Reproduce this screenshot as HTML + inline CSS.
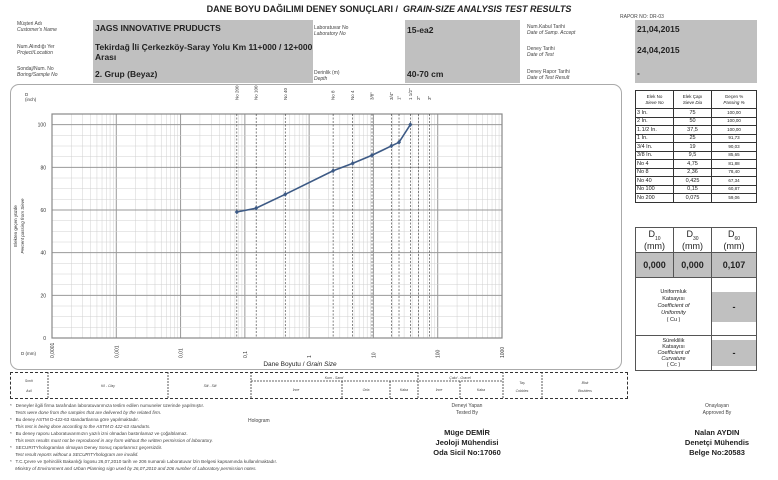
<!DOCTYPE html>
<html><head><meta charset="utf-8">
<style>
body{margin:0;background:#fff;font-family:"Liberation Sans",sans-serif;color:#222}
#page{position:relative;width:778px;height:480px;overflow:hidden}
.a{position:absolute;white-space:nowrap}
.s{font-size:5px;line-height:6px;color:#444}
.i{font-style:italic}
.g{position:absolute;background:#c0c0c0}
.b{font-weight:bold}
table{border-collapse:collapse;position:absolute}
#sv td{padding:0}
</style></head><body>
<div id="page">
<div class="a b" style="left:0;width:778px;text-align:center;top:4px;font-size:9px">DANE BOYU DAĞILIMI DENEY SONUÇLARI / &nbsp;<i>GRAIN-SIZE ANALYSIS TEST RESULTS</i></div>
<div class="a s" style="left:17px;top:21px">Müşteri Adı<br><i>Customer's Name</i></div>
<div class="a s" style="left:17px;top:44px">Num.Alındığı Yer<br><i>Project/Location</i></div>
<div class="a s" style="left:17px;top:66px">Sondaj/Num. No<br><i>Boring/Sample No</i></div>
<div class="g" style="left:93px;top:20px;width:220px;height:63px"></div>
<div class="a b" style="left:95px;top:23px;font-size:8.5px">JAGS INNOVATIVE PRUDUCTS</div>
<div class="a b" style="left:95px;top:42px;font-size:8.5px;line-height:10px">Tekirdağ İli Çerkezköy-Saray Yolu Km 11+000 / 12+000<br>Arası</div>
<div class="a b" style="left:95px;top:69px;font-size:8.5px">2. Grup (Beyaz)</div>
<div class="a s" style="left:314px;top:25px">Laboratuvar No<br><i>Laboratory No</i></div>
<div class="a s" style="left:314px;top:70px">Derinlik (m)<br><i>Depth</i></div>
<div class="g" style="left:405px;top:20px;width:115px;height:63px"></div>
<div class="a b" style="left:407px;top:25px;font-size:8.5px">15-ea2</div>
<div class="a b" style="left:407px;top:69px;font-size:8.5px">40-70 cm</div>
<div class="a s" style="left:527px;top:24px">Num.Kabul Tarihi<br><i>Date of Samp. Accept</i></div>
<div class="a s" style="left:527px;top:46px">Deney Tarihi<br><i>Date of Test</i></div>
<div class="a s" style="left:527px;top:69px">Deney Rapor Tarihi<br><i>Date of Test Result</i></div>
<div class="a s" style="left:620px;top:14px">RAPOR NO: DR-03</div>
<div class="g" style="left:635px;top:20px;width:122px;height:63px"></div>
<div class="a b" style="left:637px;top:24px;font-size:8.5px">21,04,2015</div>
<div class="a b" style="left:637px;top:45px;font-size:8.5px">24,04,2015</div>
<div class="a b" style="left:637px;top:68px;font-size:8.5px">-</div>

<div class="a" style="left:10px;top:84px;width:610px;height:284px;border:1px solid #aaa;border-radius:9px"></div>
<svg id="chart" class="a" style="left:0;top:0" width="778" height="480"></svg>

<table style="left:635px;top:90px;width:122px;font-size:4.5px;table-layout:fixed" id="sv"></table>

<table style="left:635px;top:227px;width:122px;border:1px solid #555">
<tr style="height:25px;font-size:9px;text-align:center"><td style="border:1px solid #555;width:37px;padding:0">D<sub style="font-size:5px">10</sub><br>(mm)</td><td style="border:1px solid #555;width:37px;padding:0">D<sub style="font-size:5px">30</sub><br>(mm)</td><td style="border:1px solid #555;padding:0">D<sub style="font-size:5px">60</sub><br>(mm)</td></tr>
<tr style="height:25px;font-size:9px;font-weight:bold;text-align:center;background:#c0c0c0"><td style="border:1px solid #555">0,000</td><td style="border:1px solid #555">0,000</td><td style="border:1px solid #555">0,107</td></tr>
<tr style="height:58px;font-size:5.5px;line-height:7px;text-align:center"><td colspan="2" style="border:1px solid #555;padding:0">Uniformluk<br>Katsayısı<br><i>Coefficient of<br>Uniformity</i><br>( Cu )</td><td style="border:1px solid #555;padding:0"><div style="margin:7px 0;height:30px;background:#c0c0c0;line-height:30px;font-size:9px;font-weight:bold">-</div></td></tr>
<tr style="height:32px;font-size:5.5px;line-height:6px;text-align:center"><td colspan="2" style="border:1px solid #555;padding:0">Süreklilik<br>Katsayısı<br><i>Coefficient of<br>Curvature</i><br>( Cc )</td><td style="border:1px solid #555;padding:0"><div style="margin:4px 0;height:26px;background:#c0c0c0;line-height:26px;font-size:9px;font-weight:bold">-</div></td></tr>
</table>

<div class="a" style="left:10px;top:372px;width:616px;height:25px;border:1px dashed #333"></div>
<svg class="a" style="left:0;top:0;pointer-events:none" width="778" height="480">
<g stroke="#333" stroke-dasharray="2,1" stroke-width="0.8">
<line x1="48" y1="372" x2="48" y2="398"/><line x1="168" y1="372" x2="168" y2="398"/><line x1="251" y1="372" x2="251" y2="398"/>
<line x1="418" y1="372" x2="418" y2="398"/><line x1="503" y1="372" x2="503" y2="398"/><line x1="542" y1="372" x2="542" y2="398"/>
<line x1="251" y1="381" x2="503" y2="381"/><line x1="342" y1="381" x2="342" y2="398"/><line x1="390" y1="381" x2="390" y2="398"/><line x1="460" y1="381" x2="460" y2="398"/>
</g>
<g font-size="3.5" fill="#444" text-anchor="middle" font-style="italic">
<text x="29" y="382">Sınıfı</text><text x="29" y="392">Asil</text><text x="108" y="387">Kil - Clay</text><text x="210" y="387">Silt - Silt</text>
<text x="334" y="379">Kum - Sand</text><text x="460" y="379">Çakıl - Gravel</text>
<text x="296" y="391">İnce</text><text x="366" y="391">Orta</text><text x="404" y="391">Kaba</text><text x="439" y="391">İnce</text><text x="481" y="391">Kaba</text>
<text x="522" y="384">Taş</text><text x="522" y="392">Cobbles</text><text x="585" y="384">Blok</text><text x="585" y="392">Boulders</text>
</g></svg>

<div class="a s" style="left:10px;top:402px;line-height:7px;font-size:4.6px">
*&nbsp;&nbsp; Deneyler ilgili firma tarafından laboratuvarımıza teslim edilen numuneler üzerinde yapılmıştır.<br>
&nbsp;&nbsp;&nbsp;&nbsp;<i>Tests were done from the samples that are delivered by the related firm.</i><br>
*&nbsp;&nbsp; Bu deney ASTM D-422-63 standartlarına göre yapılmaktadır.<br>
&nbsp;&nbsp;&nbsp;&nbsp;<i>This test is being done according to the ASTM D 422-63 standarts.</i><br>
*&nbsp;&nbsp; Bu deney raporu Laboratuvarımızın yazılı izni olmadan bastırılamaz ve çoğaltılamaz.<br>
&nbsp;&nbsp;&nbsp;&nbsp;<i>This tests results must not be reproduced in any form without the written permission of laboratory.</i><br>
*&nbsp;&nbsp; SECURITYhologramları olmayan Deney Sonuç raporlarımız geçersizdir.<br>
&nbsp;&nbsp;&nbsp;&nbsp;<i>Test result reports without a SECURITYhologram are invalid.</i><br>
*&nbsp;&nbsp; T.C.Çevre ve Şehircilik Bakanlığı logosu 26,07,2010 tarih ve 206 numaralı Laboratuvar İzin Belgesi kapsamında kullanılmaktadır.<br>
&nbsp;&nbsp;&nbsp;&nbsp;<i>Ministry of Environment and Urban Planning sign used by 26,07,2010 and 206 number of Laboratory permission notes.</i></div>
<div class="a s" style="left:248px;top:418px">Hologram</div>
<div class="a s" style="left:417px;width:100px;text-align:center;top:403px;line-height:7px">Deneyi Yapan<br>Tested By</div>
<div class="a b" style="left:407px;width:120px;text-align:center;top:428px;font-size:7.5px;line-height:10px">Müge DEMİR<br>Jeoloji Mühendisi<br>Oda Sicil No:17060</div>
<div class="a s" style="left:667px;width:100px;text-align:center;top:403px;line-height:7px">Onaylayan<br>Approved By</div>
<div class="a b" style="left:657px;width:120px;text-align:center;top:428px;font-size:7.5px;line-height:10px">Nalan AYDIN<br>Denetçi Mühendis<br>Belge No:20583</div>
</div>
<script>
const sieveNames=["3  In.","2 In.","1.1/2 In.","1 In.","3/4 In.","3/8 In.","No 4","No 8","No 40","No 100","No 200"];
const sieveSizes=[75,50,37.5,25,19,9.5,4.75,2.36,0.425,0.15,0.075];
const passing=[100,100,100,91.73,90.03,85.65,81.88,78.40,67.34,60.87,59.06];
const topLabels=['3"','2"','1 1/2"','1"','3/4"','3/8"','No 4','No 8','No 40','No 100','No 200'];
const xTicks=[0.0001,0.001,0.01,0.1,1,10,100,1000];
const xTickLabels=["0,0001","0,001","0,01","0,1","1","10","100","1000"];
const yTicks=[0,20,40,60,80,100];

const NS="http://www.w3.org/2000/svg";
const svg=document.getElementById('chart');
const X0=52,X1=502,Y0=338,Y1=114;
const xs=v=>X0+(Math.log10(v)+4)/7*(X1-X0);
const ys=v=>Y0-v/105*(Y0-Y1);
function mk(t,a,p){const e=document.createElementNS(NS,t);for(const k in a)e.setAttribute(k,a[k]);(p||svg).appendChild(e);return e;}
for(let d=-4;d<3;d++)for(let m=1;m<=9;m++){const v=m*Math.pow(10,d);const x=xs(v);
 const ln=mk('line',{x1:x,x2:x,y1:Y1,y2:Y0,stroke:m==1?'#999':'#d0d0d0','stroke-width':m==1?1:0.5});
 
 }
for(let v=0;v<=105;v+=5){const y=ys(v);
 const ln=mk('line',{x1:X0,x2:X1,y1:y,y2:y,stroke:v%20==0?'#999':'#d0d0d0','stroke-width':v%20==0?1:0.5});
 
 }
const fr=mk('rect',{x:X0,y:Y1,width:X1-X0,height:Y0-Y1,fill:'none',stroke:'#888','stroke-width':1.2});


sieveSizes.forEach((s,i)=>{const x=xs(s);
 const l=mk('line',{x1:x,x2:x,y1:Y1,y2:Y0,stroke:'#333','stroke-width':0.6,'stroke-dasharray':'2,1.5'});
 
 
 const t=mk('text',{x:0,y:0,'font-size':4.5,fill:'#333',transform:`translate(${x+1.5},100) rotate(-90)`});
 t.textContent=topLabels[i];
 
 });
yTicks.forEach(v=>{const t=mk('text',{x:46,y:ys(v)+2,'font-size':5,'text-anchor':'end',fill:'#333'});t.textContent=v;
 
 });
xTicks.forEach((v,i)=>{const t=mk('text',{x:0,y:0,'font-size':5,fill:'#333',transform:`translate(${xs(v)+2},358) rotate(-90)`});t.textContent=xTickLabels[i];
 
 });
let t=mk('text',{x:25,y:96,'font-size':4.5,fill:'#333'});t.textContent='D';
t=mk('text',{x:25,y:101,'font-size':4.5,fill:'#333'});t.textContent='(inch)';
t=mk('text',{x:21,y:355,'font-size':4.5,fill:'#333'});t.textContent='D (mm)';
t=mk('text',{x:300,y:366,'font-size':6.5,fill:'#222','text-anchor':'middle'});t.innerHTML='Dane Boyutu  /  <tspan font-style="italic">Grain Size</tspan>';

t=mk('text',{x:0,y:0,'font-size':4.5,fill:'#333','text-anchor':'middle',transform:'translate(17,226) rotate(-90)'});t.textContent='Elekten geçen yüzde';

t=mk('text',{x:0,y:0,'font-size':4.5,fill:'#333','font-style':'italic','text-anchor':'middle',transform:'translate(24,226) rotate(-90)'});t.textContent='Percent passing from Sieve';
const pts=sieveSizes.map((s,i)=>[xs(s),ys(passing[i])]).filter((p,i)=>i>=2);
const pl=mk('polyline',{points:pts.map(p=>p.join(',')).join(' '),fill:'none',stroke:'#3d5a85','stroke-width':1.6});


pts.forEach(p=>{const m=mk('path',{d:`M${p[0]} ${p[1]-2.5}L${p[0]+2} ${p[1]}L${p[0]} ${p[1]+2.5}L${p[0]-2} ${p[1]}Z`,fill:'#3d5a85'});
 
 });
const tb=document.getElementById('sv');
let h='<tr style="height:18px;line-height:6px;text-align:center"><td style="border:1px solid #333;width:37px">Elek No<br><i>Sieve No</i></td><td style="border:1px solid #333;width:37px">Elek Çapı<br><i>Sieve Dia</i></td><td style="border:1px solid #333">Geçen %<br><i>Passing %</i></td></tr>';
sieveNames.forEach((n,i)=>{h+=`<tr style="height:8.5px;line-height:6px"><td style="border:1px solid #333;font-size:5.5px;padding:0 1px">${n}</td><td style="border:1px solid #333;font-size:5.5px;text-align:center">${String(sieveSizes[i]).replace('.',',')}</td><td style="border:1px solid #333;text-align:center">${passing[i].toFixed(2).replace('.',',')}</td></tr>`;});
tb.innerHTML=h;
</script>
</body></html>
